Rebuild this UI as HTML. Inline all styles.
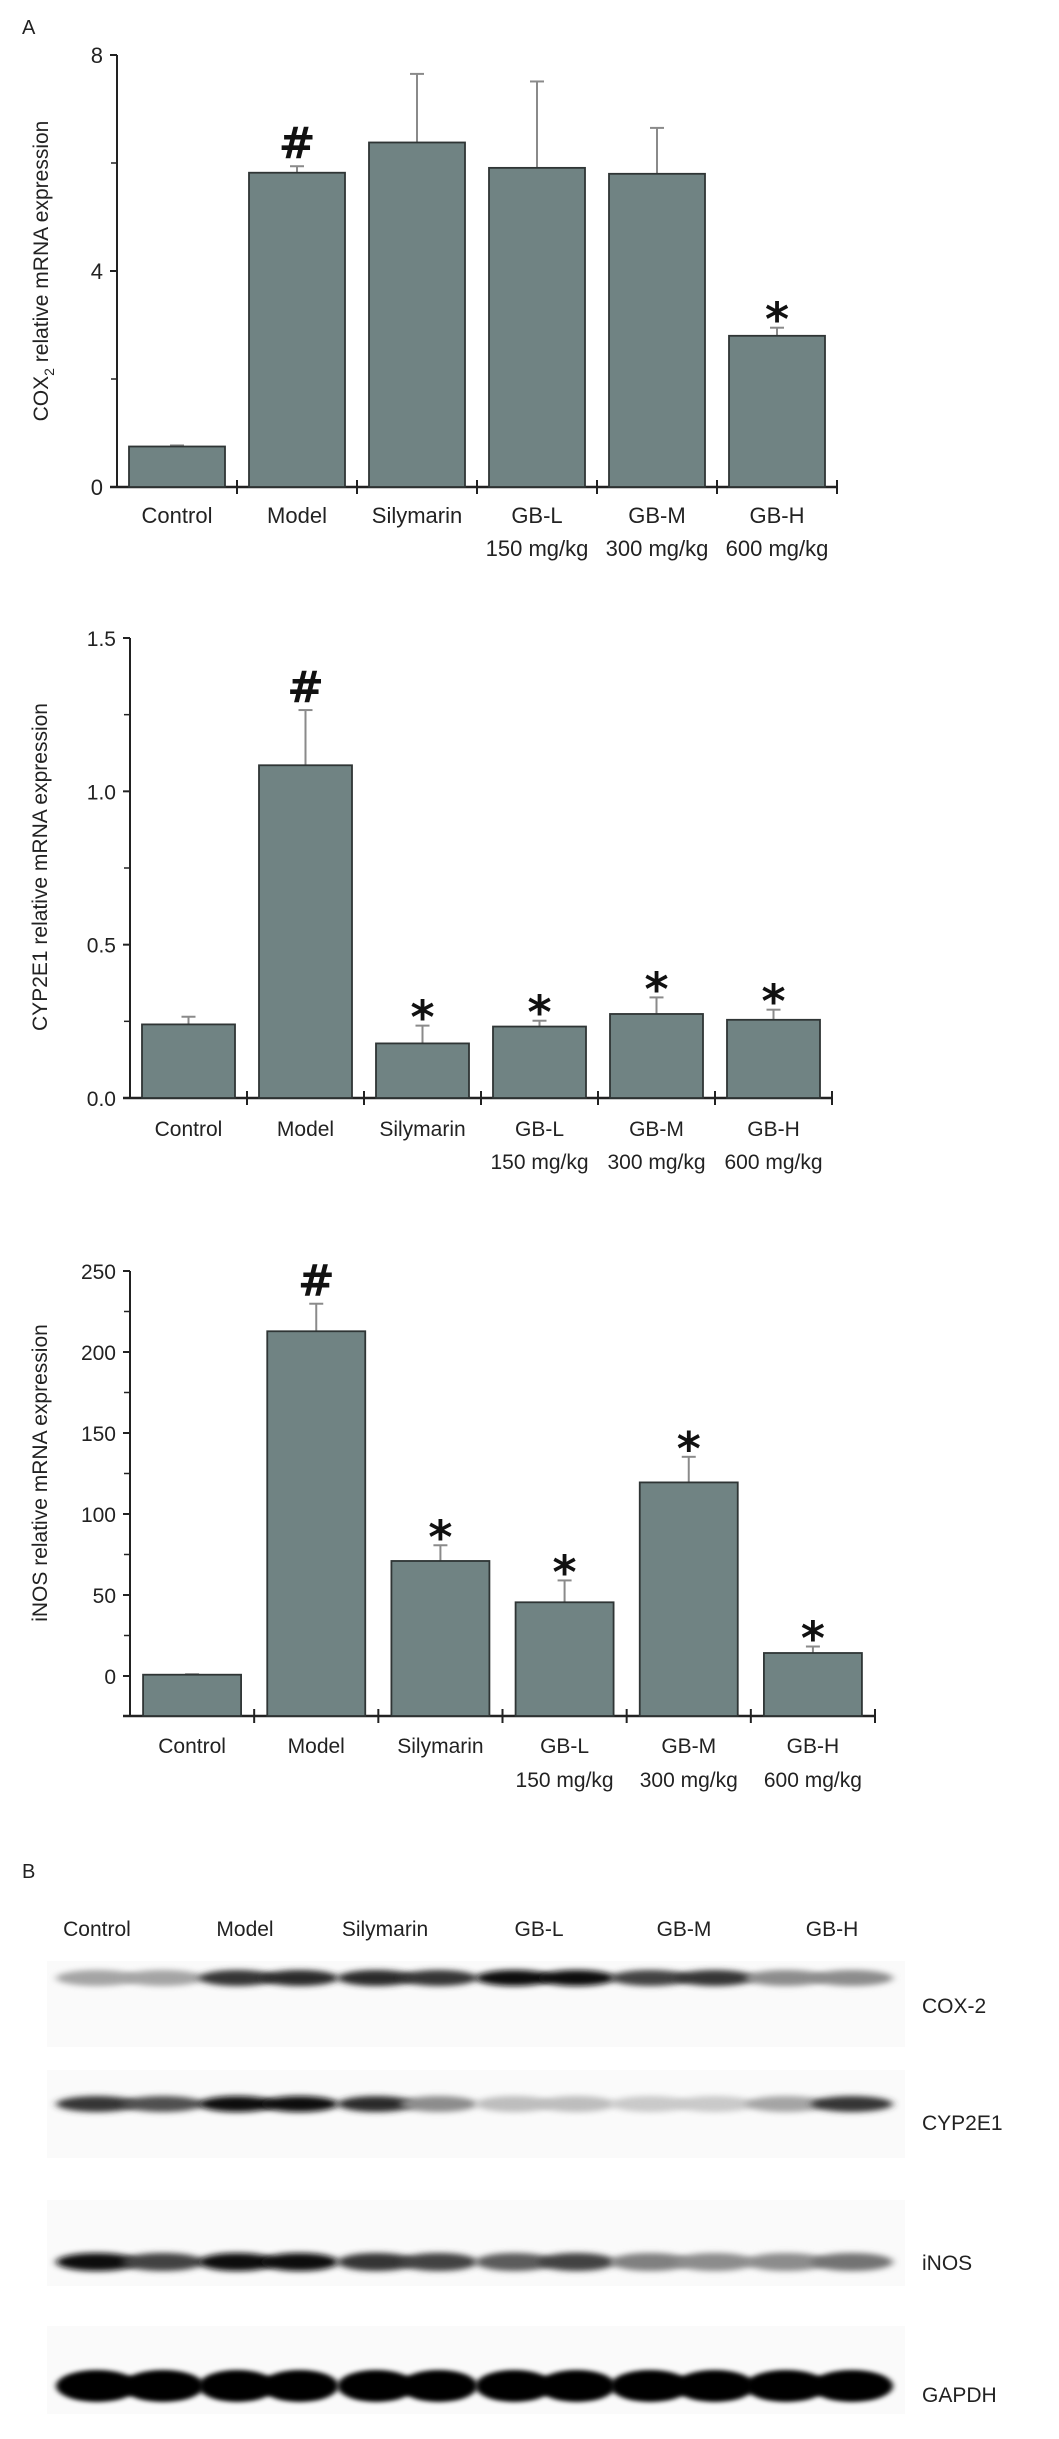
<!DOCTYPE html>
<html><head><meta charset="utf-8"><style>
html,body{margin:0;padding:0;background:#fff;}
svg{display:block;font-family:"Liberation Sans",Arial,sans-serif;}
</style></head><body>
<svg id="fig" width="1059" height="2439" viewBox="0 0 1059 2439" xmlns="http://www.w3.org/2000/svg">
<defs>
<filter id="blur" x="-20%" y="-80%" width="140%" height="260%"><feGaussianBlur stdDeviation="3 2"/></filter>
<filter id="blurS" x="-20%" y="-80%" width="140%" height="260%"><feGaussianBlur stdDeviation="4 3"/></filter>
</defs>
<text x="22" y="34" font-size="20" fill="#222">A</text>
<text x="22" y="1878" font-size="20" fill="#222">B</text>
<g id="c1"></g>
<g id="c2"></g>
<g id="c3"></g>
<g id="wb"></g>
</svg>
<script>
const categories = ["Control","Model","Silymarin","GB-L","GB-M","GB-H"];
const doses = ["","","","150 mg/kg","300 mg/kg","600 mg/kg"];
// Chart 1: COX2
const cox2Values = [0.75, 5.82, 6.38, 5.91, 5.80, 2.80];
const cox2Errors = [0.02, 0.12, 1.27, 1.60, 0.85, 0.15];
const cox2Marks = ["", "#", "", "", "", "*"];
const cox2Ticks = [0, 4, 8];
// Chart 2: CYP2E1
const cypValues = [0.240, 1.085, 0.178, 0.233, 0.274, 0.255];
const cypErrors = [0.025, 0.180, 0.058, 0.019, 0.054, 0.033];
const cypMarks = ["", "#", "*", "*", "*", "*"];
const cypTicks = ["0.0", "0.5", "1.0", "1.5"];
// Chart 3: iNOS
const inosValues = [0.8, 212.8, 71, 45.5, 119.5, 14.2];
const inosErrors = [0.3, 17, 9.7, 13.5, 15.8, 4];
const inosMarks = ["", "#", "*", "*", "*", "*"];
const inosTicks = [0, 50, 100, 150, 200, 250];

const NS = "http://www.w3.org/2000/svg";
function mk(parent, tag, attrs, text){
  const e = document.createElementNS(NS, tag);
  for (const k in attrs) e.setAttribute(k, attrs[k]);
  if (text !== undefined) e.textContent = text;
  parent.appendChild(e);
  return e;
}

function drawChart(g, o, values, errors, marks, ticks, title, key){
  const y = v => o.y0 - (v - 0) * (o.y0 - o.yTop) / (o.vmax);
  const step = (o.xEnd - o.x0) / categories.length;
  const bottom = o.yBottom;
  const ya = mk(g, "line", {x1:o.x0, y1:o.yTop, x2:o.x0, y2:bottom, stroke:"#222", "stroke-width":2});
  
  
  const xa = mk(g, "line", {x1:o.x0-7, y1:bottom, x2:o.xEnd, y2:bottom, stroke:"#222", "stroke-width":2.5});
  
  
  ticks.forEach(t => {
    const v = parseFloat(t);
    const ty = y(v);
    const tl = mk(g, "line", {x1:o.x0-7, y1:ty, x2:o.x0, y2:ty, stroke:"#222", "stroke-width":2});
    
    
    const tt = mk(g, "text", {x:o.x0-14, y:ty+8, "font-size":o.fs, "text-anchor":"end", fill:"#222"}, String(t));
    
    
  });
  for (let i = 0; i < ticks.length - 1; i++){
    const mv = (parseFloat(ticks[i]) + parseFloat(ticks[i+1])) / 2;
    const ml = mk(g, "line", {x1:o.x0-6, y1:y(mv), x2:o.x0, y2:y(mv), stroke:"#222", "stroke-width":1.5});
    
    
  }
  if (o.vmin < 0){
    const mv = -parseFloat(ticks[1]) / 2;
    if (y(mv) < bottom){
      const ml = mk(g, "line", {x1:o.x0-6, y1:y(mv), x2:o.x0, y2:y(mv), stroke:"#222", "stroke-width":1.5});
      
      
    }
  }
  for (let i = 1; i <= categories.length; i++){
    const xt = o.x0 + step * i;
    const tk = mk(g, "line", {x1:xt, y1:bottom-7, x2:xt, y2:bottom+7, stroke:"#222", "stroke-width":2});
    
    
  }
  const tt = mk(g, "text", {x:0, y:0, "font-size":o.tfs, "text-anchor":"middle", fill:"#222", transform:`translate(${o.tx},${o.ty}) rotate(-90)`});
  
  
  tt.innerHTML = title;
  categories.forEach((c, i) => {
    const cx = o.x0 + step * (i + 0.5);
    const bx = cx - o.bw / 2;
    const top = y(values[i]);
    const eTop = y(values[i] + errors[i]);
    const el = mk(g, "line", {x1:cx, y1:top, x2:cx, y2:eTop, stroke:"#8a8a8a", "stroke-width":2});
    
    
    const ec = mk(g, "line", {x1:cx-7, y1:eTop, x2:cx+7, y2:eTop, stroke:"#8a8a8a", "stroke-width":2});
    
    
    const r = mk(g, "rect", {x:bx, y:top, width:o.bw, height:bottom-top, fill:"#708383", stroke:"#2f3535", "stroke-width":1.8});
    
    
    if (marks[i]){
      const star = marks[i] === "*";
      const m = mk(g, "text", {x:cx, y:eTop - (star ? -8 : 8), "font-size": star ? 46 : 44, "font-weight":"bold", "text-anchor":"middle", fill:"#111", "font-family":"DejaVu Sans, sans-serif"}, marks[i]);
      
      
    }
    const l1 = mk(g, "text", {x:cx, y:o.ly, "font-size":o.fs, "text-anchor":"middle", fill:"#222"}, c);
    
    
    if (doses[i]){
      const l2 = mk(g, "text", {x:cx, y:o.ly + o.lg, "font-size":o.fs, "text-anchor":"middle", fill:"#222"}, doses[i]);
      
      
    }
  });
}

drawChart(document.getElementById("c1"),
  {x0:117, xEnd:837, y0:487, yTop:55, yBottom:487, vmax:8, vmin:0, bw:96, fs:22, tfs:21, tx:48, ty:271, ly:523, lg:33},
  cox2Values, cox2Errors, cox2Marks, cox2Ticks,
  'COX<tspan font-size="14" dy="6">2</tspan><tspan dy="-6"> relative mRNA expression</tspan>', "cox2");
drawChart(document.getElementById("c2"),
  {x0:130, xEnd:832, y0:1098, yTop:638, yBottom:1098, vmax:1.5, vmin:0, bw:93, fs:21, tfs:21, tx:47, ty:867, ly:1136, lg:33},
  cypValues, cypErrors, cypMarks, cypTicks, 'CYP2E1 relative mRNA expression', "cyp2e1");
drawChart(document.getElementById("c3"),
  {x0:130, xEnd:875, y0:1676, yTop:1271, yBottom:1716, vmax:250, vmin:-25, bw:98, fs:21, tfs:21, tx:47, ty:1473, ly:1753, lg:34},
  inosValues, inosErrors, inosMarks, inosTicks, 'iNOS relative mRNA expression', "inos");

// Western blot
const lanes = ["Control","Model","Silymarin","GB-L","GB-M","GB-H"];
const laneLabelX = [97, 245, 385, 539, 684, 832];
const proteins = ["COX-2","CYP2E1","iNOS","GAPDH"];
const coxBands = [[0.35,0.35],[0.8,0.85],[0.85,0.8],[0.95,0.95],[0.75,0.8],[0.45,0.45]];
const cypBands = [[0.8,0.7],[0.95,0.95],[0.85,0.45],[0.25,0.25],[0.2,0.2],[0.35,0.8]];
const inosBands = [[0.95,0.75],[0.95,0.95],[0.8,0.75],[0.65,0.75],[0.5,0.45],[0.45,0.55]];
const gapdhBands = [[1,1],[1,1],[1,1],[1,1],[1,1],[1,1]];
const wb = document.getElementById("wb");
const laneX = [[64,196],[206,331],[345,470],[483,608],[618,747],[753,885]];
const rows = [
  {name:"COX-2", bands:coxBands, y0:1961, y1:2047, by:1978, bh:16, ly:2013},
  {name:"CYP2E1", bands:cypBands, y0:2070, y1:2158, by:2104, bh:16, ly:2130},
  {name:"iNOS", bands:inosBands, y0:2200, y1:2286, by:2262, bh:18, ly:2270},
  {name:"GAPDH", bands:gapdhBands, y0:2326, y1:2414, by:2386, bh:32, ly:2402}
];
lanes.forEach((l, i) => {
  const t = mk(wb, "text", {x:laneLabelX[i], y:1936, "font-size":21, "text-anchor":"middle", fill:"#222"}, l);
  
  
});
rows.forEach(r => {
  const bg = mk(wb, "rect", {x:47, y:r.y0, width:858, height:r.y1-r.y0, fill:"#fafafa"});
  
  
  r.bands.forEach((pair, i) => {
    const [a, b] = laneX[i];
    const w = (b - a) / 2;
    pair.forEach((v, k) => {
      const g = Math.round(250 - 245 * v);
      const e = mk(wb, "ellipse", {cx:a + w*(k+0.5), cy:r.by, rx:w*0.62, ry:r.bh/2, fill:`rgb(${g},${g},${g})`, filter: r.name==="GAPDH" ? "url(#blur)" : "url(#blurS)"});
      
      
    });
  });
  const lt = mk(wb, "text", {x:922, y:r.ly, "font-size":21, fill:"#222"}, r.name);
  
  
});
</script>
</body></html>
